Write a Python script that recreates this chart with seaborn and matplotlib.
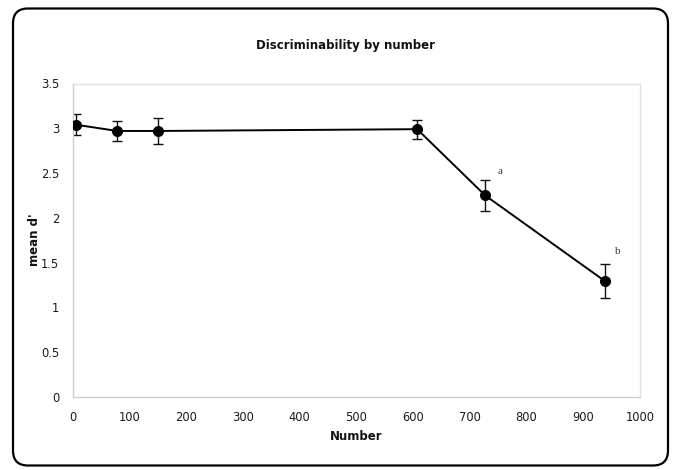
import matplotlib
matplotlib.use("Agg")
import matplotlib.pyplot as plt
from matplotlib.patches import FancyBboxPatch
import seaborn as sns
import pandas as pd

# Data
numbers = [5, 78, 150, 607, 727, 939]
mean_d = [3.04, 2.97, 2.97, 2.99, 2.25, 1.29]
errors = [0.12, 0.11, 0.145, 0.105, 0.175, 0.19]
sig_labels = ["a", "b"]
sig_x = [753, 960]
sig_y = [2.52, 1.62]
x_ticks = [0, 100, 200, 300, 400, 500, 600, 700, 800, 900, 1000]
y_ticks = [0, 0.5, 1, 1.5, 2, 2.5, 3, 3.5]
y_tick_labels = ["0", "0.5", "1", "1.5", "2", "2.5", "3", "3.5"]

sns.set_style("white")
plt.rcParams["font.family"] = ["DejaVu Sans"]

df = pd.DataFrame({"Number": numbers, "mean_d": mean_d, "err": errors})

fig = plt.figure(figsize=(6.75, 4.7), dpi=100)
ax = fig.add_axes([73 / 675, 1 - 397 / 470, (640 - 73) / 675, (397 - 83.5) / 470])

ax.errorbar(df["Number"], df["mean_d"], yerr=df["err"], fmt="none",
            ecolor="#111111", elinewidth=1.0, capsize=3.3, capthick=1.0, zorder=2)
sns.lineplot(data=df, x="Number", y="mean_d", ax=ax, color="black",
             linewidth=1.4, marker="o", markersize=7.2,
             markerfacecolor="black", markeredgecolor="black", zorder=3)

for lab, lx, ly in zip(sig_labels, sig_x, sig_y):
    ax.text(lx, ly, lab, fontsize=8, family="Liberation Serif",
            color="#4a3a1a", ha="center", va="center")

ax.set_xlim(0, 1000)
ax.set_ylim(0, 3.5)
ax.set_xticks(x_ticks)
ax.set_xticklabels([str(t) for t in x_ticks])
ax.set_yticks(y_ticks)
ax.set_yticklabels(y_tick_labels)
ax.tick_params(axis="both", labelsize=8.3, colors="#d0d0d0", labelcolor="#1a1a1a",
               length=4, width=0.8, direction="out")
ax.tick_params(axis="x", pad=6)
ax.tick_params(axis="y", pad=6)

for s in ax.spines.values():
    s.set_visible(True)
    s.set_color("#e2e2e2")
    s.set_linewidth(1.0)
ax.spines["left"].set_color("#cfcfcf")
ax.spines["bottom"].set_color("#cfcfcf")

ax.set_xlabel("")
ax.set_ylabel("")
fig.text(356 / 675, 1 - 437 / 470, "Number", fontsize=8.5, fontweight="bold",
         ha="center", va="center", color="#111111")
fig.text(35 / 675, 1 - 240 / 470, "mean d'", fontsize=8.5, fontweight="bold",
         rotation=90, ha="center", va="center", color="#111111")
fig.text(346 / 675, 1 - 45 / 470, "Discriminability by number", fontsize=8.5,
         fontweight="bold", ha="center", va="center", color="#111111")

box = FancyBboxPatch((0.13, 0.045), 6.55, 4.57,
                     boxstyle="round,pad=0,rounding_size=0.15",
                     transform=fig.dpi_scale_trans, facecolor="none",
                     edgecolor="black", linewidth=1.6, zorder=10)
fig.patches.append(box)

fig.savefig("out.png", dpi=100)
